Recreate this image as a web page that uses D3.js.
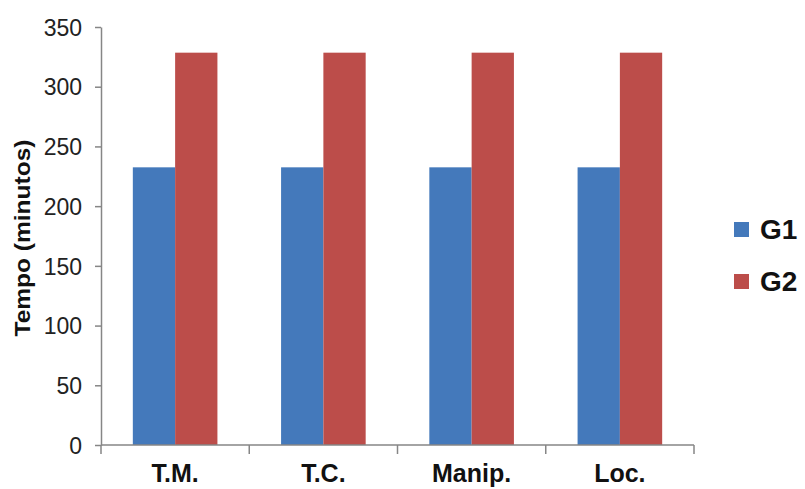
<!DOCTYPE html>
<html><head><meta charset="utf-8">
<script src="https://cdn.jsdelivr.net/npm/d3@7"></script>
<style>body{margin:0;background:#fff}svg{display:block}</style>
</head><body><svg id="c" width="805" height="489"></svg>
<script>
const categories = ["T.M.", "T.C.", "Manip.", "Loc."];
const seriesNames = ["G1", "G2"];
const g1Values = [232.5, 232.5, 232.5, 232.5];
const g2Values = [328.5, 328.5, 328.5, 328.5];
const yTicks = [0, 50, 100, 150, 200, 250, 300, 350];
const colors = ["#4479BB", "#BC4D4A"];

(function () {
const svg = d3.select("#c");
const pLeft = 101, pRight = 694, pTop = 27, pBottom = 445;
const x = d3.scaleBand().domain(categories).range([pLeft, pRight]).paddingInner(0).paddingOuter(0);
const x1 = d3.scaleBand().domain(seriesNames).range([0, x.bandwidth()]).paddingInner(0).paddingOuter(0.7525);
const y = d3.scaleLinear().domain([0, 350]).range([pBottom, pTop]);
const axisColor = "#868686";

const data = categories.map((c, i) => ({cat: c, vals: [g1Values[i], g2Values[i]]}));
const g = svg.append("g");
data.forEach(d => {
  d.vals.forEach((v, j) => {
    g.append("rect")
      .attr("x", x(d.cat) + x1(seriesNames[j]))
      .attr("width", x1.bandwidth())
      .attr("y", y(v))
      .attr("height", y(0) - y(v))
      .attr("fill", colors[j]);
  });
});

// y axis
const ya = svg.append("g").attr("transform", `translate(${pLeft},0)`)
  .call(d3.axisLeft(y).tickValues(yTicks).tickSize(6).tickPadding(13).tickSizeOuter(0));
ya.select(".domain").attr("stroke", axisColor).attr("stroke-width", 1.5);
ya.selectAll(".tick line").attr("stroke", axisColor).attr("stroke-width", 1.5);
ya.selectAll(".tick text").attr("font-family", "Liberation Sans, Arial, sans-serif")
  .attr("font-size", 23).attr("fill", "#222").attr("dy", "0.36em");

// x axis
svg.append("line").attr("x1", pLeft).attr("x2", pRight).attr("y1", pBottom).attr("y2", pBottom)
  .attr("stroke", axisColor).attr("stroke-width", 1.5);
const bounds = categories.map(c => x(c)).concat([pRight]);
svg.selectAll(".xt").data(bounds).enter().append("line")
  .attr("x1", d => d).attr("x2", d => d).attr("y1", pBottom).attr("y2", pBottom + 9)
  .attr("stroke", axisColor).attr("stroke-width", 1.5);
svg.selectAll(".xl").data(categories).enter().append("text")
  .attr("x", d => x(d) + x.bandwidth() / 2).attr("y", 482)
  .attr("text-anchor", "middle").attr("font-family", "Liberation Sans, Arial, sans-serif")
  .attr("font-weight", "bold").attr("font-size", 25).attr("fill", "#111").text(d => d);

// y title
svg.append("text").attr("transform", "translate(30,238) rotate(-90)")
  .attr("text-anchor", "middle").attr("font-family", "Liberation Sans, Arial, sans-serif")
  .attr("font-weight", "bold").attr("font-size", 22).attr("fill", "#111")
  .attr("textLength", 197).attr("lengthAdjust", "spacingAndGlyphs")
  .text("Tempo (minutos)");

// legend
seriesNames.forEach((s, i) => {
  const ly = 222 + i * 52;
  svg.append("rect").attr("x", 734).attr("y", ly).attr("width", 15).attr("height", 15).attr("fill", colors[i]);
  svg.append("text").attr("x", 760).attr("y", ly + 17).attr("font-family", "Liberation Sans, Arial, sans-serif")
    .attr("font-weight", "bold").attr("font-size", 28).attr("fill", "#111").text(s);
});
})();
</script></body></html>
